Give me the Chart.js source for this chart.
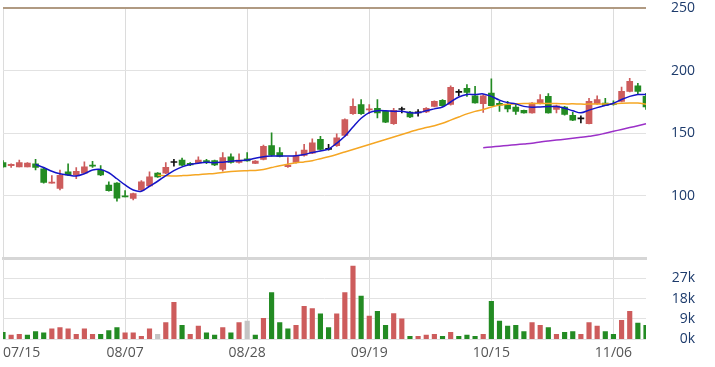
<!DOCTYPE html>
<html><head><meta charset="utf-8">
<script src="https://cdn.jsdelivr.net/npm/chart.js@4.4.1/dist/chart.umd.min.js"></script>
<style>
html,body{margin:0;padding:0;background:#fff;}
#wrap{position:relative;width:715px;height:367px;overflow:hidden;background:#fff;}
#p1{position:absolute;left:0;top:0;width:715px;height:260px;}
#p2{position:absolute;left:0;top:256px;width:715px;height:111px;}
</style></head><body>
<div id="wrap"><div id="p1"><canvas id="c1"></canvas></div><div id="p2"><canvas id="c2"></canvas></div></div>
<script>
const dates = ['07/15','07/16','07/17','07/18','07/19','07/22','07/23','07/24','07/25','07/26',
 '07/29','07/31','08/01','08/02','08/06','08/07','08/08','08/09','08/12','08/13',
 '08/14','08/15','08/16','08/19','08/20','08/21','08/22','08/23','08/26','08/27',
 '08/28','08/29','08/30','09/02','09/03','09/04','09/05','09/06','09/09','09/10',
 '09/11','09/12','09/13','09/16','09/18','09/19','09/20','09/23','09/24','09/25',
 '09/26','09/27','09/30','10/02','10/04','10/07','10/08','10/10','10/11','10/14',
 '10/15','10/16','10/17','10/18','10/21','10/22','10/23','10/24','10/25','10/28',
 '10/29','10/30','10/31','11/01','11/05','11/06','11/07','11/08','11/11','11/12'];
const tickDates = ['07/15','08/07','08/28','09/19','10/15','11/06'];
const priceTicks = [100,150,200,250];
const volTicks = [0,9000,18000,27000];

const open  = [126.5,124,123,123,125.5,121.5,110,105.7,119,116.5,118,124.5,120.5,108.5,110,99.5,97.7,104.5,107.7,118,
 118,126.5,128.5,125.8,126,128,128,121,131,126.5,129.5,125.8,129,140,134.5,123.2,126.5,132.2,134,145,
 137,140,148.3,165.7,173,168.7,170,167.5,157.7,169,167,166.3,167,171.5,176.3,173,182.7,186,180,173.7,
 182.2,174,173,171,168.3,166.3,173.7,179.5,169,171,164.4,161.5,157.7,173.7,174.2,174,175.5,183.5,188,179.5];
const high  = [128,125.5,128.5,126.5,129,122.5,116,120.5,125.5,122.5,127,127.5,124,111,110.5,104,102,112,119,118.5,
 126.5,129,130,126.5,131,129,128.5,134.5,133.5,133.5,134.5,128,140.5,150.3,138.5,130.4,135,141,145.5,147.5,
 141,149.5,161.5,177.5,177,173,177,168,170,171,167.5,169,170.5,176,177,188,185,189,187.5,181,
 193.5,175.5,175.5,174,168.5,174.5,181,181.7,172.5,171.5,166.7,164,178,180,178,176,187,194,190,182];
const low   = [122.7,122.5,123,123,120.5,110,110,104.5,116,113.5,117.5,122.5,116,103.5,95.5,99,96.5,104,107.5,114.5,
 117.5,123.5,124,124,125.5,125.5,124,119.5,126,126,127.5,125.5,128.5,131.5,131,122.5,126,131.5,133.5,136.5,
 136.5,139.5,147.5,165,165,165.7,162.3,158.5,157,166.3,162.5,163.6,166.5,171,171.5,172.5,180,179.5,174,166.7,
 172,167.5,167,165,166,166,173.5,166,166.3,164.5,160,158.3,157.5,173,172,172.5,175,183,181,169];
const close = [123,125,126.5,126,122.5,110.5,110.5,116.3,116.5,119.5,123,123.5,116.5,104,98,99,101.7,111,115,115,
 122.7,126.5,124.3,124.5,128.5,126.5,124.5,130.5,126.5,128.5,127.8,127.7,139.5,132.3,131.3,124.5,131.7,136.5,142.3,137,
 137,146.3,161,171.5,165.7,169.2,166.3,158.8,168.3,169,163,166.3,170,175.5,172,186.7,182.7,182.7,174.3,180,
 172,172.5,169.5,167.5,166.3,174.2,177,166.3,172,165,160.4,161.5,175.5,177,172.2,173,183.5,191.5,183.5,171];

const ma5 = [null,null,null,null,125,122.5,119.5,117.5,116.5,115.7,117.5,120.5,121,118.3,113.5,108.5,104.5,103.5,107.5,111.5,
 116,120,123,125,126,126.8,126.3,126.8,127.5,128,128.5,130,131.2,131.7,131.7,131.7,132,133,134.5,135.8,
 137.3,142,147.5,155,162,166.5,168,168,167.5,167.5,166.5,166.3,168,169.5,171,175,179,181,181,181.5,
 179.5,176.5,174.5,173.5,171.5,170.8,171,171.3,171.3,170,168,166.3,168.5,170.5,172.3,174,177,179.5,181,181];
const ma20 = [null,null,null,null,null,null,null,null,null,null,null,null,null,null,null,null,null,null,null,116.3,
 116,115.8,116,116.3,116.8,117.3,117.8,118.5,119.3,119.8,120,120.2,121,122.5,124,125.2,126.3,127,128,129.6,
 131.2,133,135,137,139,141,143,145,147,149,151,153,154.5,156,158,160.5,163,165.5,167.5,169,
 171,172.5,173.2,173.5,173.8,173.8,173.8,173.8,173.8,173.5,173.5,173.3,173.3,173.4,173.4,173.6,174,174.2,174.2,173.2];
const ma60 = [null,null,null,null,null,null,null,null,null,null,null,null,null,null,null,null,null,null,null,null,
 null,null,null,null,null,null,null,null,null,null,null,null,null,null,null,null,null,null,null,null,
 null,null,null,null,null,null,null,null,null,null,null,null,null,null,null,null,null,null,null,138.3,
 139,139.6,140.2,140.8,141.4,142,143,143.8,144.5,145.2,146,146.7,147.5,148.5,150,151.5,153,154.5,156,157.5];

const volume = [3000,1800,2200,1800,3400,2800,4600,5200,4600,2200,4600,2200,2200,3800,5200,2800,2800,1300,4600,2200,
 7400,16300,6200,2200,5800,2800,1800,5200,2800,7400,8000,1800,9200,20700,7400,4600,6200,14600,13600,11200,
 5200,11200,20700,32400,19100,10200,12400,6200,11400,9000,1300,1300,1800,2200,1300,3000,1300,1800,1300,2200,
 16800,8000,5800,6200,3400,7400,6200,5200,2200,3000,3400,2200,7400,5800,3400,2200,8400,12400,7200,6200];
// +1 = close above previous close, -1 = below, 0 = unchanged
const volDir = [-1,1,1,-1,-1,-1,1,1,1,1,1,1,-1,-1,-1,1,1,1,1,0,
 1,1,-1,1,1,-1,-1,1,-1,1,0,-1,1,-1,-1,-1,1,1,1,-1,
 -1,1,1,1,-1,1,-1,-1,1,1,-1,1,1,1,-1,1,-1,-1,-1,1,
 -1,-1,-1,-1,-1,1,1,-1,1,-1,-1,1,1,1,-1,-1,1,1,-1,-1];

const UP = '#cd5c5c', DOWN = '#238b23', FLAT = '#111111', GRAYV = '#c4c4c4';
const candleColor = open.map((o, i) => close[i] > o ? UP : (close[i] < o ? DOWN : FLAT));
const volColor = volDir.map(d => d > 0 ? UP : (d < 0 ? DOWN : GRAYV));
const FONT = '"Open Sans", "DejaVu Sans", sans-serif';
const vGrid = ctx => tickDates.includes(dates[ctx.index]) ? '#dcdcdc' : 'rgba(0,0,0,0)';

function build() {
  Chart.defaults.font.family = FONT;
  new Chart(document.getElementById('c1'), {
    type: 'bar',
    data: {
      labels: dates,
      datasets: [
        {type:'line', data: ma5, borderColor:'#1515c8', borderWidth:1.5, pointRadius:0, tension:0.35, order:0},
        {type:'line', data: ma20, borderColor:'#f5a623', borderWidth:1.5, pointRadius:0, tension:0.35, order:0},
        {type:'line', data: ma60, borderColor:'#9b30c8', borderWidth:1.5, pointRadius:0, tension:0.35, order:0},
        {data: low.map((l, i) => [l, high[i]]), backgroundColor: candleColor, barThickness: 1, grouped: false, order: 2},
        {data: open.map((o, i) => [Math.min(o, close[i]), Math.max(o, close[i])]), backgroundColor: candleColor,
         barThickness: 6, minBarLength: 1, grouped: false, order: 1}
      ]
    },
    options: {
      responsive: true, maintainAspectRatio: false, animation: false,
      layout: {padding: {top: 8, left: 3, right: 20, bottom: 2}},
      plugins: {legend: {display: false}, tooltip: {enabled: false}},
      scales: {
        x: {offset: false, grid: {offset: false, color: vGrid, drawTicks: false},
            ticks: {display: false, autoSkip: false},
            border: {display: true, color: '#d6d6d6', width: 3}},
        y: {position: 'right', min: 50, max: 250,
            ticks: {stepSize: 50, autoSkip: false, color: '#1d3b6c', font: {size: 14}, crossAlign: 'far', padding: 0,
                    callback: v => priceTicks.includes(v) ? String(v) : ''},
            grid: {drawTicks: false,
                   color: ctx => ctx.tick && ctx.tick.value === 250 ? '#b09a82' : '#e2e2e2',
                   lineWidth: ctx => ctx.tick && ctx.tick.value === 250 ? 2 : 1},
            border: {display: false},
            afterFit: s => { s.width = 49; s.paddingBottom = 0; }}
      }
    }
  });

  const firstLabel = {
    id: 'firstLabel',
    afterDraw(chart) {
      const xs = chart.scales.x, c = chart.ctx;
      c.save();
      c.font = '14px ' + FONT;
      c.fillStyle = '#555555';
      c.textAlign = 'left';
      c.textBaseline = 'middle';
      c.fillText(dates[0], 3, xs.top + 5 + 8.4);
      c.restore();
    }
  };

  new Chart(document.getElementById('c2'), {
    type: 'bar',
    data: {
      labels: dates,
      datasets: [{data: volume, backgroundColor: volColor, barThickness: 4.5}]
    },
    options: {
      responsive: true, maintainAspectRatio: false, animation: false,
      layout: {padding: {top: 2, left: 3, right: 20, bottom: 1}},
      plugins: {legend: {display: false}, tooltip: {enabled: false}},
      scales: {
        x: {offset: false, grid: {offset: false, color: vGrid, drawTicks: false},
            border: {display: false},
            ticks: {autoSkip: false, maxRotation: 0, padding: 5, color: '#555555', font: {size: 14},
                    callback: (v, i) => (i > 0 && tickDates.includes(dates[i])) ? dates[i] : ''},
            afterFit: s => { s.paddingLeft = 0; s.paddingRight = 0; }},
        y: {position: 'right', min: 0, max: 36000,
            ticks: {stepSize: 9000, autoSkip: false, color: '#1d3b6c', font: {size: 14}, crossAlign: 'far', padding: 0,
                    callback: v => volTicks.includes(v) ? (v / 1000) + 'k' : ''},
            grid: {drawTicks: false, color: ctx => ctx.tick && ctx.tick.value === 36000 ? '#d6d6d6' : '#e2e2e2'},
            border: {display: false},
            afterFit: s => { s.width = 49; s.paddingTop = 0; s.paddingBottom = 0; }}
      }
    },
    plugins: [firstLabel]
  });
}

if (document.fonts && document.fonts.load) {
  document.fonts.load('14px "Open Sans"').then(build, build);
} else { build(); }
</script>
</body></html>
